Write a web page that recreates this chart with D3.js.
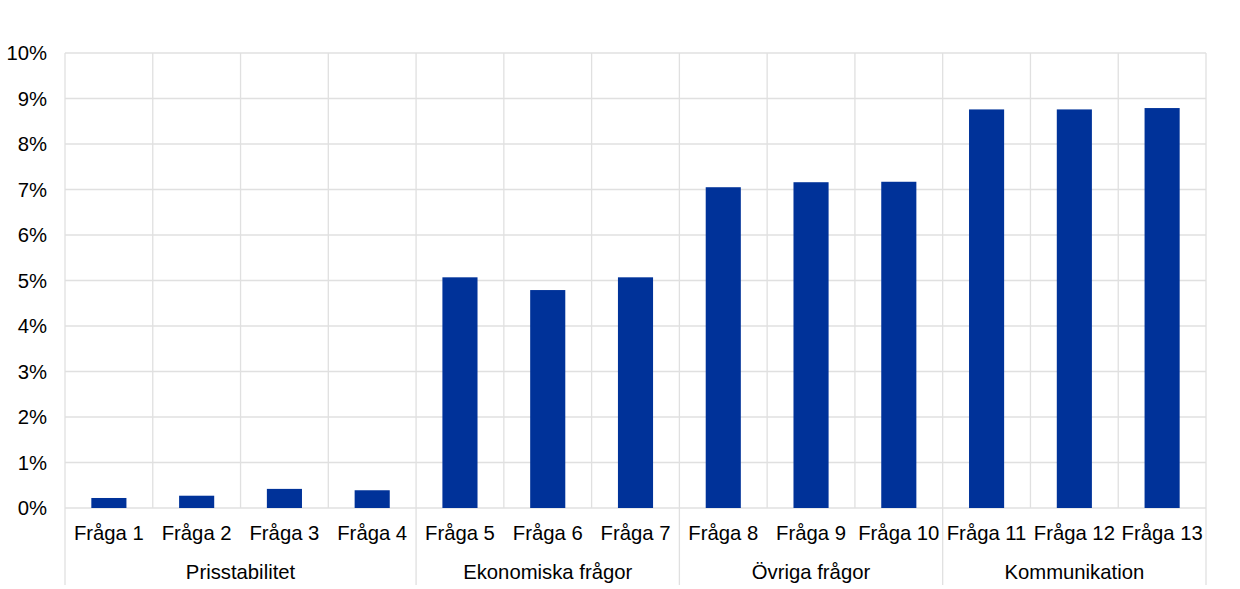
<!DOCTYPE html>
<html><head><meta charset="utf-8">
<script src="https://cdn.jsdelivr.net/npm/d3@7"></script>
<style>body{margin:0;background:#fff}svg{display:block;font-family:"Liberation Sans",Arial,sans-serif}</style>
</head><body><div id="chart"></div>
<script>
const categories = ["Fråga 1","Fråga 2","Fråga 3","Fråga 4","Fråga 5","Fråga 6","Fråga 7","Fråga 8","Fråga 9","Fråga 10","Fråga 11","Fråga 12","Fråga 13"];
const values = [0.22,0.27,0.42,0.39,5.07,4.79,5.07,7.05,7.16,7.17,8.76,8.76,8.79];
const groups = ["Prisstabilitet","Ekonomiska frågor","Övriga frågor","Kommunikation"];
const groupSizes = [4,3,3,3];
const yTicks = [0,1,2,3,4,5,6,7,8,9,10];

const W=1240,H=589;
const m={left:65,right:34,top:53,bottom:81};
const svg=d3.select("#chart").append("svg").attr("width",W).attr("height",H);
const x=d3.scaleBand().domain(categories).range([m.left,W-m.right]).paddingInner(0).paddingOuter(0);
const y=d3.scaleLinear().domain([0,10]).range([H-m.bottom,m.top]);
const grid="#e0e0e0";
const fs=20.3;

svg.append("g").selectAll("line").data(yTicks).join("line")
  .attr("x1",m.left).attr("x2",W-m.right)
  .attr("y1",d=>y(d)).attr("y2",d=>y(d))
  .attr("stroke",grid).attr("stroke-width",1.3);
const bounds=categories.map(c=>x(c)).concat([x(categories[categories.length-1])+x.bandwidth()]);
svg.append("g").selectAll("line").data(bounds).join("line")
  .attr("x1",d=>d).attr("x2",d=>d).attr("y1",m.top).attr("y2",y(0))
  .attr("stroke",grid).attr("stroke-width",1.3);
let idx=0; const gb=[0];
groupSizes.forEach(s=>{idx+=s;gb.push(idx);});
svg.append("g").selectAll("line").data(gb).join("line")
  .attr("x1",d=>bounds[d]).attr("x2",d=>bounds[d]).attr("y1",y(0)).attr("y2",585)
  .attr("stroke",grid).attr("stroke-width",1.3);

const bw=x.bandwidth()*0.4;
svg.append("g").selectAll("rect").data(values).join("rect")
  .attr("x",(d,i)=>x(categories[i])+(x.bandwidth()-bw)/2)
  .attr("width",bw)
  .attr("y",d=>y(d)).attr("height",d=>y(0)-y(d))
  .attr("fill","#003299");

svg.append("g").selectAll("text").data(yTicks).join("text")
  .attr("x",47).attr("y",d=>y(d)).attr("dy","0.35em")
  .attr("text-anchor","end").attr("font-size",fs).attr("fill","#000")
  .text(d=>d+"%");

svg.append("g").selectAll("text").data(categories).join("text")
  .attr("x",d=>x(d)+x.bandwidth()/2).attr("y",540)
  .attr("text-anchor","middle").attr("font-size",fs).attr("fill","#000")
  .text(d=>d);
svg.append("g").selectAll("text").data(groups).join("text")
  .attr("x",(d,i)=>(bounds[gb[i]]+bounds[gb[i+1]])/2).attr("y",579)
  .attr("text-anchor","middle").attr("font-size",fs).attr("fill","#000")
  .text(d=>d);
</script></body></html>
